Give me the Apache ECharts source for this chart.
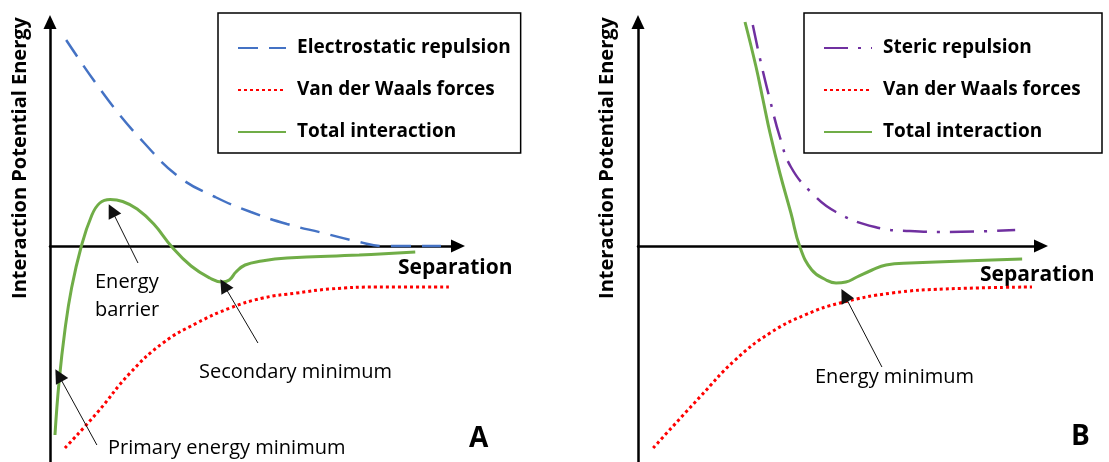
<!DOCTYPE html>
<html>
<head>
<meta charset="utf-8">
<script src="https://cdn.jsdelivr.net/npm/echarts@6/dist/echarts.min.js"></script>
<style>
  html, body { margin: 0; padding: 0; background: #fff; }
  #chart { width: 1109px; height: 462px; }
</style>
</head>
<body>
<div id="chart"></div>
<script>
// Separation (arbitrary units) vs interaction potential energy (arbitrary units)
const xMax = 9.83;
const yMin = -21.6;
const yMax = 22.4;

// Panel A: electrostatically stabilised dispersion (DLVO)
const electrostaticA = [[0.39, 20.6], [1.40, 14.6], [2.27, 10.3], [3.11, 6.9], [3.98, 4.9], [4.84, 3.4],
  [5.71, 2.2], [6.58, 1.3], [7.45, 0.4], [8.05, 0.0], [9.42, 0.0]];
const vdwA = [[0.36, -20.2], [1.13, -16.7], [1.93, -12.7], [2.72, -9.7], [3.54, -7.7], [4.34, -6.2],
  [5.13, -5.2], [5.95, -4.7], [6.75, -4.3], [7.88, -4.1], [9.61, -4.1]];
const totalA = [[0.12, -18.9], [0.22, -13.5], [0.36, -8.4], [0.52, -4.2], [0.75, -0.1], [1.00, 3.0],
  [1.20, 4.3], [1.45, 4.65], [1.75, 4.45], [2.10, 3.7], [2.50, 2.2], [2.94, -0.1], [3.40, -2.0],
  [3.85, -3.2], [4.14, -3.6], [4.32, -3.4], [4.48, -2.6], [4.70, -1.9], [5.10, -1.5], [5.71, -1.2],
  [7.45, -0.9], [8.80, -0.6]];

// Panel B: sterically stabilised dispersion
const stericB = [[2.80, 22.1], [3.00, 18.3], [3.22, 14.6], [3.46, 10.9], [3.73, 7.9], [4.24, 5.3],
  [4.83, 3.4], [5.78, 1.9], [6.63, 1.5], [7.49, 1.4], [9.20, 1.6]];
const vdwB = [[0.37, -20.2], [1.51, -15.1], [2.37, -11.4], [3.22, -8.7], [4.07, -6.9], [4.93, -5.7],
  [6.20, -4.7], [7.49, -4.3], [9.61, -4.1]];
const totalB = [[2.61, 22.4], [2.88, 17.9], [3.05, 14.6], [3.22, 11.3], [3.46, 7.3], [3.73, 3.3],
  [3.95, -0.1], [4.24, -2.4], [4.59, -3.4], [4.83, -3.7], [5.07, -3.6], [5.34, -3.1], [5.71, -2.4],
  [6.05, -1.9], [6.63, -1.7], [9.37, -1.3]];

// Annotation pointers: [tail, head] in data coordinates
const pointersA = [
  [[2.12, -1.7], [1.49, 3.56]],    // Energy barrier
  [[5.01, -9.7], [4.19, -3.92]],   // Secondary minimum
  [[1.13, -19.9], [0.21, -12.93]]  // Primary energy minimum
];
const pointersB = [
  [[5.95, -12.1], [5.04, -4.93]]   // Energy minimum
];

const legendA = ['Electrostatic repulsion', 'Van der Waals forces', 'Total interaction'];
const legendB = ['Steric repulsion', 'Van der Waals forces', 'Total interaction'];

const FONT = '"Open Sans", Lato, sans-serif';
const BLUE = '#4472C4', RED = '#FF0000', GREEN = '#70AD47', PURPLE = '#7030A0';

function axisX(gi) {
  return {
    type: 'value', gridIndex: gi, min: 0, max: xMax,
    axisLine: { onZero: true, symbol: ['none', 'triangle'], symbolSize: [13, 14],
      lineStyle: { color: '#000', width: 2.5 } },
    axisTick: { show: false }, axisLabel: { show: false }, splitLine: { show: false }
  };
}
function axisY(gi) {
  return {
    type: 'value', gridIndex: gi, min: yMin, max: yMax,
    axisLine: { onZero: false, symbol: ['none', 'triangle'], symbolSize: [13, 14],
      lineStyle: { color: '#000', width: 2.5 } },
    axisTick: { show: false }, axisLabel: { show: false }, splitLine: { show: false }
  };
}
function pointerLines(list) {
  return {
    silent: true, animation: false,
    symbol: ['none', 'triangle'], symbolSize: 14,
    lineStyle: { color: '#111', width: 1, type: 'solid' },
    label: { show: false },
    data: list.map(p => [{ coord: p[0] }, { coord: p[1] }])
  };
}
function curve(name, gi, data, color, type, width, extra) {
  return Object.assign({
    type: 'line', name: name, xAxisIndex: gi, yAxisIndex: gi, data: data,
    smooth: 0.45, symbol: 'none', clip: false, silent: true,
    lineStyle: { color: color, width: width, type: type, cap: 'butt' },
    itemStyle: { color: color }
  }, extra || {});
}
function legendBox(names, left, textWidth, padRight) {
  return {
    data: names, orient: 'vertical', left: left, top: 13,
    itemWidth: 48, itemHeight: 14, itemGap: 22,
    padding: [25, padRight, 11, 19],
    borderColor: '#000', borderWidth: 1.5, backgroundColor: '#fff',
    selectedMode: false,
    itemStyle: { opacity: 0 },
    textStyle: { fontFamily: FONT, fontWeight: 'bold', fontSize: 19, color: '#000',
      lineHeight: 20, width: textWidth, padding: [0, 0, 0, 6] }
  };
}
function label(text, x, y, size, bold, extra) {
  return Object.assign({
    type: 'text', x: x, y: y,
    style: { text: text, fill: '#000', fontFamily: FONT, fontSize: size,
      fontWeight: bold ? 'bold' : 'normal', align: 'left', verticalAlign: 'middle' }
  }, extra || {});
}
function yTitle(x) {
  return {
    type: 'text', x: x, y: 158, rotation: Math.PI / 2,
    style: { text: 'Interaction Potential Energy', fill: '#000', fontFamily: FONT,
      fontSize: 20, fontWeight: 'bold', align: 'center', verticalAlign: 'middle' }
  };
}

const chart = echarts.init(document.getElementById('chart'), null, { renderer: 'canvas' });
chart.setOption({
  animation: false,
  backgroundColor: '#fff',
  grid: [
    { left: 50, top: 22, width: 408, height: 440 },
    { left: 638, top: 22, width: 403, height: 440 }
  ],
  xAxis: [axisX(0), axisX(1)],
  yAxis: [axisY(0), axisY(1)],
  legend: [legendBox(legendA, 218, 211, 10), legendBox(legendB, 804, 200, 19)],
  series: [
    curve('Electrostatic repulsion', 0, electrostaticA, BLUE, [20, 11], 2.5),
    curve('Van der Waals forces', 0, vdwA, RED, [3, 3], 3),
    curve('Total interaction', 0, totalA, GREEN, 'solid', 3, { markLine: pointerLines(pointersA) }),
    curve('Steric repulsion', 1, stericB, PURPLE, [24, 10, 3, 10], 2.5),
    curve('Van der Waals forces', 1, vdwB, RED, [3, 3], 3),
    curve('Total interaction', 1, totalB, GREEN, 'solid', 3, { markLine: pointerLines(pointersB) })
  ],
  graphic: [
    yTitle(20),
    yTitle(607),
    label('Separation', 398, 268, 21, true),
    label('Separation', 980, 275, 21, true),
    { type: 'text', x: 95, y: 296, style: { text: 'Energy\nbarrier', fill: '#000',
      fontFamily: FONT, fontSize: 20, lineHeight: 28, align: 'left', verticalAlign: 'middle' } },
    label('Secondary minimum', 199, 372, 20, false),
    label('Primary energy minimum', 108, 448, 20, false),
    label('Energy minimum', 815, 377, 20, false),
    label('A', 469, 439, 28, true),
    label('B', 1071, 437, 28, true)
  ]
});
</script>
</body>
</html>
